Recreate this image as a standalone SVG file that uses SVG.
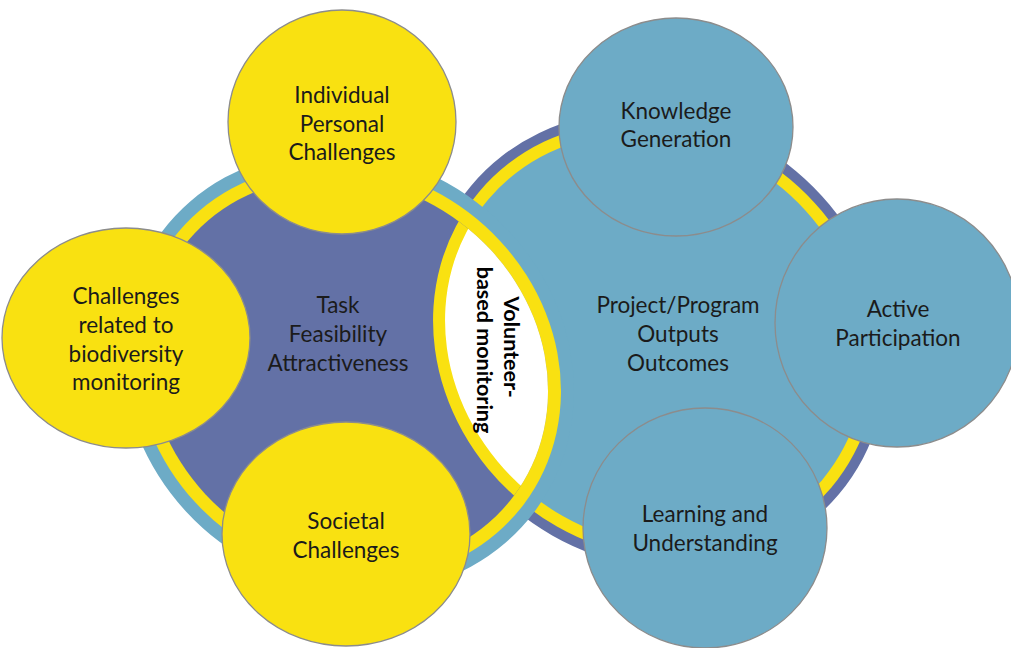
<svg xmlns="http://www.w3.org/2000/svg" width="1011" height="648" viewBox="0 0 1011 648">
<style>
.lb{fill:#6DABC6}
.db{fill:#6371A6}
.ye{fill:#F9E111}
.wh{fill:#FFFFFF}
.ny{fill:#F9E111;stroke:#8C8C8C;stroke-width:1.3}
.nb{fill:#6DABC6;stroke:#8C8C8C;stroke-width:1.3}
text{font-family:Lato,"Open Sans","Liberation Sans",sans-serif;font-size:22.5px;fill:#1b1b1b;text-anchor:middle}
.vb{font-weight:bold;fill:#000;font-size:21.5px}
</style>
<defs>
<clipPath id="leftFill"><ellipse cx="0" cy="0" rx="207" ry="187" transform="translate(348,372) rotate(37)"/></clipPath>
</defs>
<g id="right-domain" transform="translate(655,340) rotate(40)">
<ellipse class="db" cx="0" cy="0" rx="240" ry="220"/>
<ellipse class="ye" cx="0" cy="0" rx="230" ry="210"/>
<ellipse class="lb" cx="0" cy="0" rx="218" ry="198"/>
</g>
<g id="left-domain" transform="translate(348,372) rotate(37)">
<ellipse class="lb" cx="0" cy="0" rx="233" ry="213"/>
<ellipse class="ye" cx="0" cy="0" rx="220" ry="200"/>
<ellipse class="db" cx="0" cy="0" rx="207" ry="187"/>
</g>
<g id="lens" clip-path="url(#leftFill)">
<g transform="translate(655,340) rotate(40)">
<ellipse class="ye" cx="0" cy="0" rx="230" ry="210"/>
<ellipse class="wh" cx="0" cy="0" rx="218" ry="198"/>
</g>
</g>
<g id="connectors"></g>
<g id="task-label">
<text x="338" y="313">Task</text>
<text x="338" y="342">Feasibility</text>
<text x="338" y="371">Attractiveness</text>
</g>
<g id="project-label">
<text x="678" y="313">Project/Program</text>
<text x="678" y="342">Outputs</text>
<text x="678" y="371">Outcomes</text>
</g>
<g id="volunteer-label">
<text class="vb" transform="translate(504,347) rotate(90)">Volunteer-</text>
<text class="vb" transform="translate(477,350) rotate(90)">based monitoring</text>
</g>
<g id="individual">
<ellipse class="ny" cx="342" cy="122" rx="114" ry="112"/>
<text x="342" y="103">Individual</text>
<text x="342" y="132">Personal</text>
<text x="342" y="160">Challenges</text>
</g>
<g id="biodiversity">
<ellipse class="ny" cx="126" cy="338" rx="124" ry="110"/>
<text x="126" y="304">Challenges</text>
<text x="126" y="333">related to</text>
<text x="126" y="362">biodiversity</text>
<text x="126" y="390">monitoring</text>
</g>
<g id="societal">
<ellipse class="ny" cx="346" cy="534" rx="124" ry="112"/>
<text x="346" y="529">Societal</text>
<text x="346" y="558">Challenges</text>
</g>
<g id="knowledge">
<ellipse class="nb" cx="676" cy="127" rx="117" ry="109"/>
<text x="676" y="119">Knowledge</text>
<text x="676" y="147">Generation</text>
</g>
<g id="learning">
<ellipse class="nb" cx="705" cy="528" rx="122" ry="120"/>
<text x="705" y="522">Learning and</text>
<text x="705" y="551">Understanding</text>
</g>
<g id="active">
<ellipse class="nb" cx="897" cy="323" rx="122" ry="124"/>
<text x="898" y="317">Active</text>
<text x="898" y="346">Participation</text>
</g>
</svg>
